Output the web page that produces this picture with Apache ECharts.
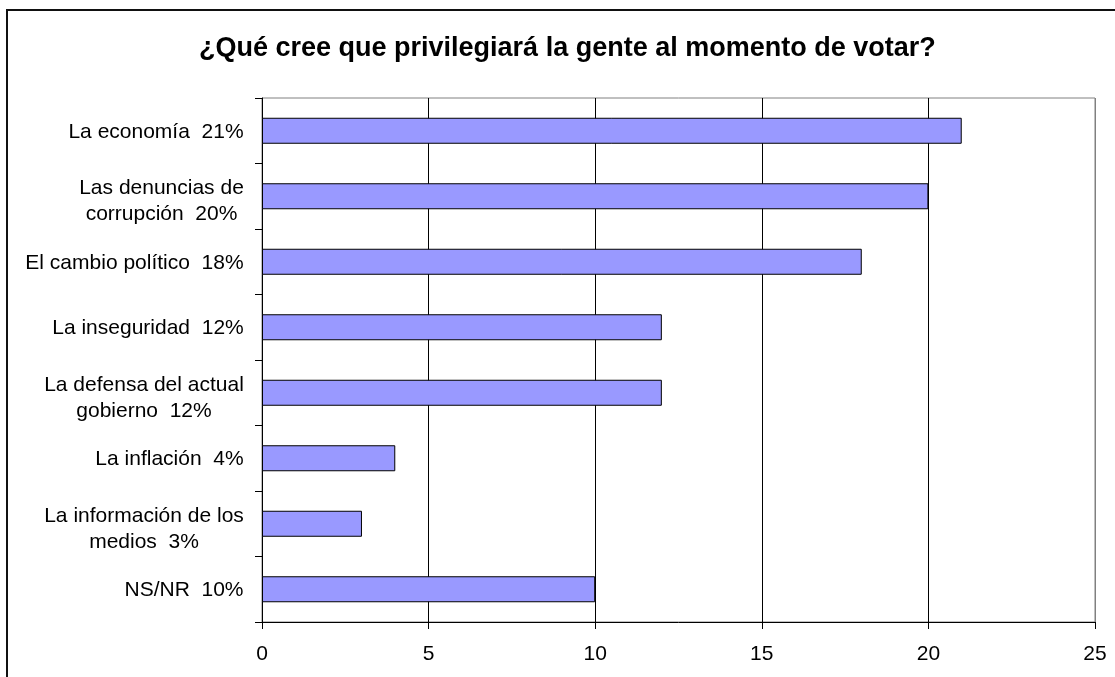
<!DOCTYPE html>
<html>
<head>
<meta charset="utf-8">
<script src="https://cdn.jsdelivr.net/npm/echarts@6/dist/echarts.min.js"></script>
<style>
  html, body { margin: 0; padding: 0; background: #fff; }
  #chart { width: 1115px; height: 677px; }
</style>
</head>
<body>
<div id="chart"></div>
<script>
var titleText = '¿Qué cree que privilegiará la gente al momento de votar?';
var categories = [
  'La economía  21%',
  'Las denuncias de\ncorrupción  20%',
  'El cambio político  18%',
  'La inseguridad  12%',
  'La defensa del actual\ngobierno  12%',
  'La inflación  4%',
  'La información de los\nmedios  3%',
  'NS/NR  10%'
];
var values = [21, 20, 18, 12, 12, 4, 3, 10];
var tickMin = 0, tickMax = 25, tickStep = 5;

var font = '"Liberation Sans", Arial, sans-serif';
var labelSize = 21;

// widest line of every label, so that lines can be centered inside a right-aligned block
var ctx = document.createElement('canvas').getContext('2d');
ctx.font = labelSize + 'px ' + font;
var rich = {};
categories.forEach(function (c, i) {
  var lines = c.split('\n');
  var w = 0;
  lines.forEach(function (line) {
    w = Math.max(w, ctx.measureText(line).width);
  });
  rich['c' + i] = {
    width: Math.ceil(w),
    align: 'center',
    fontSize: labelSize,
    lineHeight: 26,
    fontFamily: font,
    color: '#000',
    // two-line labels sit a little lower in the original
    padding: [lines.length > 1 ? 10 : 2, 0, 0, 0]
  };
});

var chart = echarts.init(document.getElementById('chart'));
chart.setOption({
  animation: false,
  backgroundColor: '#fff',
  title: {
    text: titleText,
    left: 199,
    top: 35,
    padding: 0,
    textStyle: { fontSize: 27, fontWeight: 'bold', color: '#000', fontFamily: font }
  },
  graphic: [{
    type: 'rect',
    shape: { x: 7, y: 10, width: 1120, height: 680 },
    style: { fill: 'none', stroke: '#111', lineWidth: 2 },
    silent: true
  }],
  grid: {
    left: 262,
    right: 20,
    top: 98,
    bottom: 55,
    show: true,
    borderColor: '#808080',
    borderWidth: 1
  },
  xAxis: {
    type: 'value',
    min: tickMin,
    max: tickMax,
    interval: tickStep,
    axisLine: { show: true, lineStyle: { color: '#000', width: 1 } },
    axisTick: { show: true, length: 7, lineStyle: { color: '#000' } },
    axisLabel: { fontSize: labelSize, color: '#000', fontFamily: font, margin: 22 },
    splitLine: {
      show: true,
      lineStyle: { color: ['#000', '#000', '#000', '#000', '#000', '#808080'], width: 1 }
    }
  },
  yAxis: {
    type: 'category',
    inverse: true,
    data: categories,
    axisLine: { show: true, lineStyle: { color: '#000', width: 1 } },
    axisTick: { show: true, length: 7, alignWithLabel: false, lineStyle: { color: '#000' } },
    axisLabel: {
      margin: 18,
      align: 'right',
      formatter: function (value, index) {
        return value.split('\n').map(function (line) {
          return '{c' + index + '|' + line + '}';
        }).join('\n');
      },
      rich: rich
    },
    splitLine: { show: false }
  },
  series: [{
    type: 'bar',
    data: values,
    barWidth: 26,
    itemStyle: { color: '#9999FF', borderColor: '#000', borderWidth: 1 }
  }]
});
</script>
</body>
</html>
